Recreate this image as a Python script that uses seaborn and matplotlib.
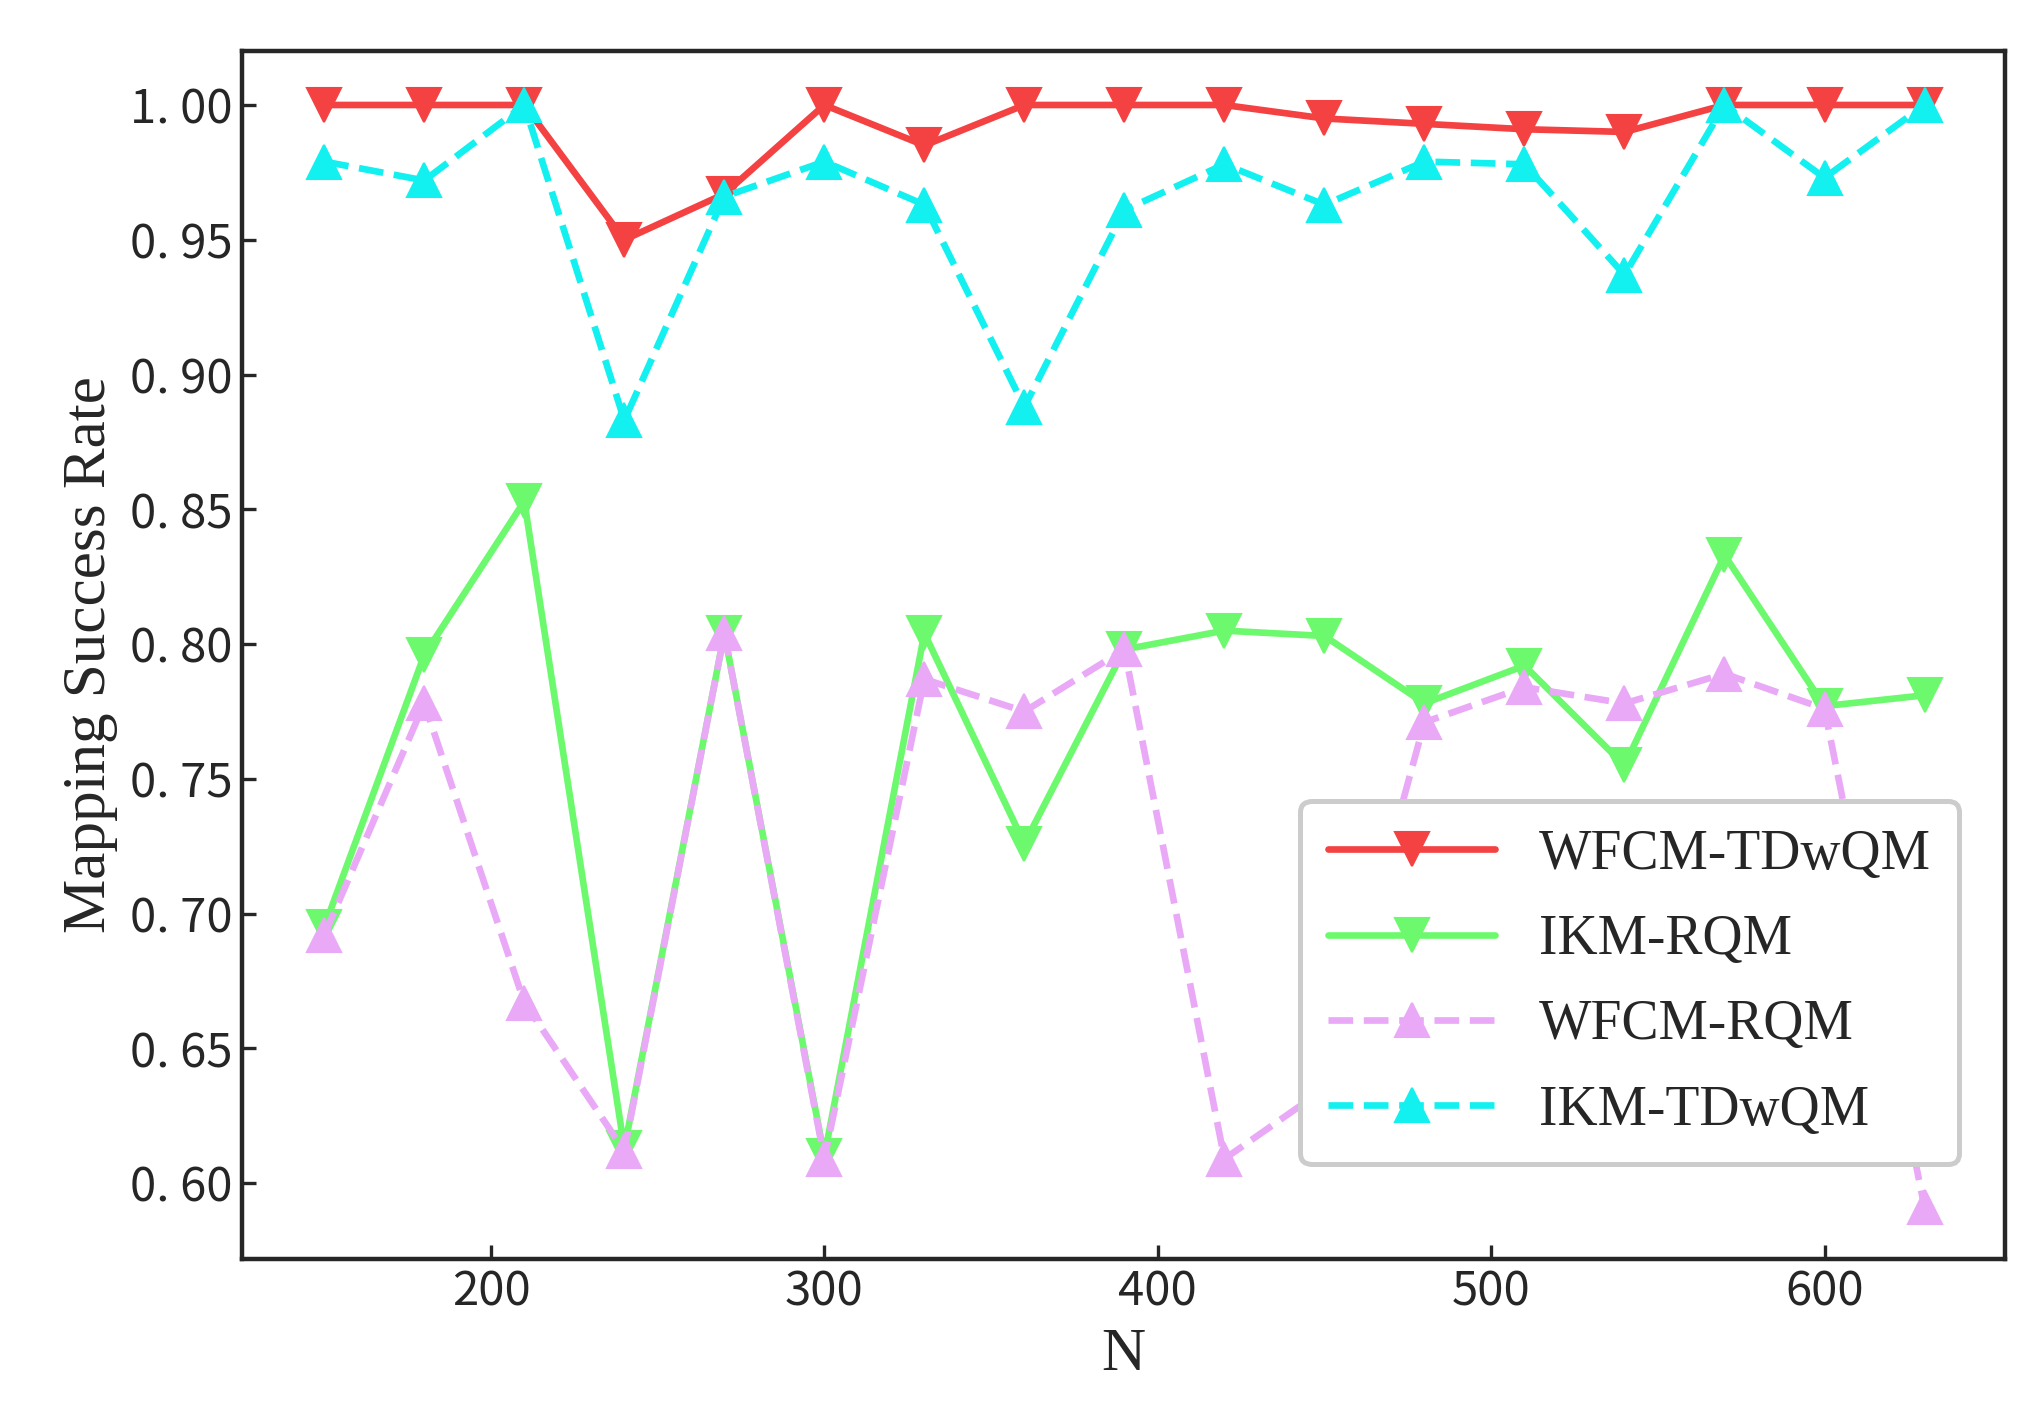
import matplotlib
matplotlib.use("Agg")
from matplotlib import pyplot as plt
import pandas as pd
import seaborn as sns

n_values = [150, 180, 210, 240, 270, 300, 330, 360, 390, 420, 450, 480, 510, 540, 570, 600, 630]
wfcm_tdwqm = [1.0, 1.0, 1.0, 0.950, 0.967, 1.0, 0.985, 1.0, 1.0, 1.0, 0.995, 0.993, 0.991, 0.990, 1.0, 1.0, 1.0]
ikm_rqm = [0.695, 0.796, 0.853, 0.613, 0.804, 0.610, 0.804, 0.726, 0.798, 0.805, 0.803, 0.778, 0.792, 0.755, 0.833, 0.777, 0.781]
wfcm_rqm = [0.692, 0.778, 0.667, 0.612, 0.804, 0.609, 0.787, 0.775, 0.798, 0.609, 0.635, 0.771, 0.784, 0.778, 0.789, 0.776, 0.591]
ikm_tdwqm = [0.979, 0.972, 1.0, 0.883, 0.966, 0.979, 0.963, 0.888, 0.961, 0.978, 0.963, 0.979, 0.978, 0.937, 1.0, 0.973, 1.0]

sns.set_style("ticks")
plt.rcParams["font.family"] = ["Noto Sans CJK SC", "DejaVu Sans"]

series = [
    ("WFCM-TDwQM", wfcm_tdwqm, "#f44141", "v", "-"),
    ("IKM-RQM", ikm_rqm, "#6df96d", "v", "-"),
    ("WFCM-RQM", wfcm_rqm, "#e9a9f7", "^", "--"),
    ("IKM-TDwQM", ikm_tdwqm, "#13f0f0", "^", "--"),
]

fig = plt.figure(figsize=(10.165, 7.095), dpi=200)
ax = fig.add_axes([0.119, 0.113, 0.867, 0.851])
for name, vals, color, marker, ls in series:
    df = pd.DataFrame({"N": n_values, "rate": vals})
    sns.lineplot(data=df, x="N", y="rate", ax=ax, color=color, marker=marker, linestyle=ls,
                 linewidth=2.4, markersize=12, markeredgecolor=color, label=name)

ax.set_xlim(125.3, 654)
ax.set_ylim(0.572, 1.020)
ax.set_yticks([0.60, 0.65, 0.70, 0.75, 0.80, 0.85, 0.90, 0.95, 1.00])
ax.set_yticklabels(["0. 60", "0. 65", "0. 70", "0. 75", "0. 80", "0. 85", "0. 90", "0. 95", "1. 00"])
ax.set_xticks([200, 300, 400, 500, 600])
ax.tick_params(direction="in", labelsize=17, width=1.2, length=5)
for lbl in ax.get_xticklabels() + ax.get_yticklabels():
    lbl.set_fontweight("medium")
for s in ax.spines.values():
    s.set_linewidth(1.6)
ax.set_xlabel("N", fontsize=22, family="Liberation Serif")
ax.set_ylabel("Mapping Success Rate", fontsize=22, family="Liberation Serif")
leg = ax.legend(loc="lower right", bbox_to_anchor=(0.99, 0.055), prop={"family": "Liberation Serif", "size": 20},
                handlelength=3, labelspacing=0.6, borderpad=0.5, fancybox=True, edgecolor="#cccccc",
                framealpha=1.0)
leg.get_frame().set_linewidth(1.8)
fig.savefig("out.png", dpi=200)
